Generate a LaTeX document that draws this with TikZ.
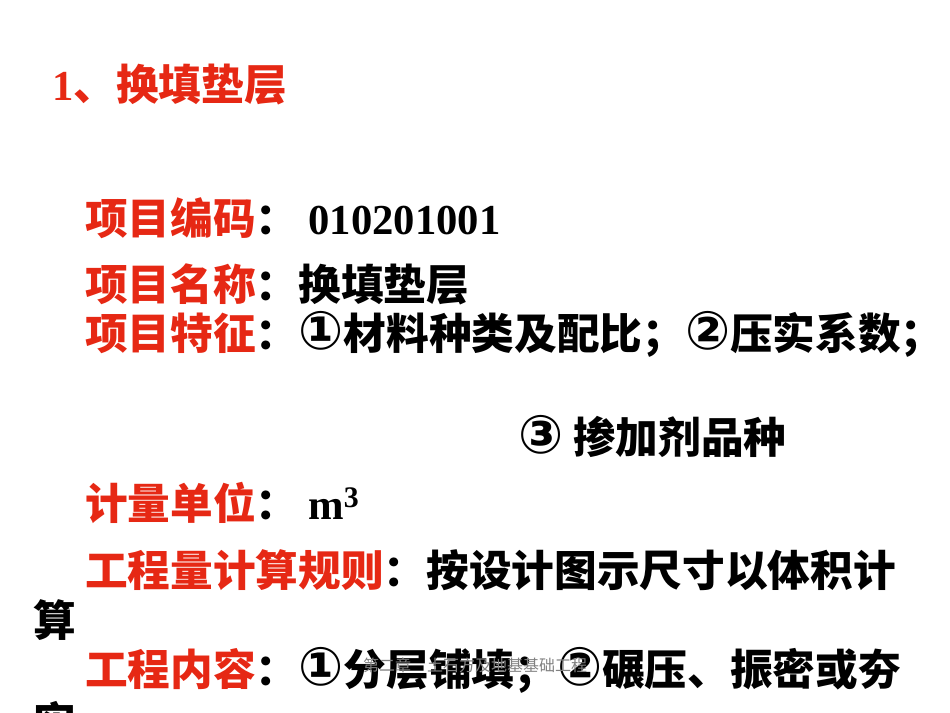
\documentclass[tikz,border=0pt]{standalone}
\usepackage{fontspec}
\setmainfont{Liberation Serif}
\newfontfamily\cjk{Noto Sans CJK SC}
\newfontfamily\sym{DejaVu Sans}
\newcommand{\cnum}[1]{{\sym\fontsize{40}{40}\selectfont #1}}
\definecolor{hred}{RGB}{230,40,20}
\begin{document}
\begin{tikzpicture}[x=0.75pt,y=-0.75pt,
  txt/.style={anchor=west,inner sep=0pt,font=\fontsize{32}{32}\selectfont\cjk\bfseries},
  foot/.style={inner sep=0pt,font=\fontsize{12}{12}\selectfont\cjk,text=gray}]
\useasboundingbox (0,0) rectangle (950,713);
\node[txt,text=hred] (h) at (52,85) {{\rmfamily 1}、换填垫层};
\node[txt] (a) at (85,218) {{\color{hred}项目编码}：\ {\rmfamily\bfseries 010201001}};
\node[txt] (b) at (85,284) {{\color{hred}项目名称}：换填垫层};
\node[txt] (c) at (85,334) {{\color{hred}项目特征}：\cnum{①}材料种类及配比；\cnum{②}压实系数；};
\node[txt] (d) at (518,436) {\cnum{③} 掺加剂品种};
\node[txt] (e) at (85,503) {{\color{hred}计量单位}：\ {\rmfamily\bfseries m\textsuperscript{3}}};
\node[txt] (f) at (85,570) {{\color{hred}工程量计算规则}：按设计图示尺寸以体积计};
\node[txt] (g) at (33,620) {算};
\node[txt] (i) at (85,670) {{\color{hred}工程内容}：\cnum{①}分层铺填；\cnum{②}碾压、振密或夯};
\node[txt] (j) at (33,722) {实};
\node[foot] (k) at (475,665) {第二章\quad 土石方及地基基础工程};
\end{tikzpicture}
\end{document}
